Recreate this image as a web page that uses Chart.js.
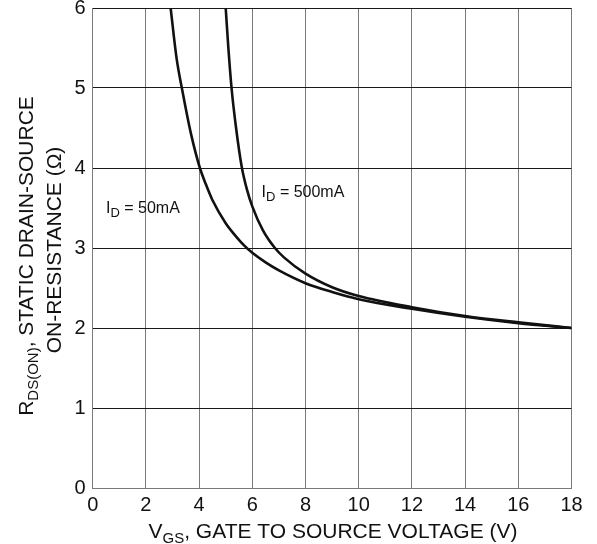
<!DOCTYPE html>
<html>
<head>
<meta charset="utf-8">
<script src="https://cdn.jsdelivr.net/npm/chart.js@4.4.1/dist/chart.umd.min.js"></script>
<style>
  html, body { margin: 0; padding: 0; background: #fff; }
  #wrap { width: 597px; height: 544px; }
</style>
</head>
<body>
<div id="wrap"><canvas id="main" width="597" height="544"></canvas></div>
<script>
// values
const vgs50 = [2.93, 3.15, 3.38, 3.7, 4.03, 4.25, 4.5, 5.0, 5.4, 5.7, 6, 6.5, 7, 8, 9, 10, 12, 14, 16, 18];
const rds50 = [6.0, 5.38, 4.95, 4.42, 4.0, 3.8, 3.6, 3.31, 3.14, 3.03, 2.94, 2.82, 2.72, 2.56, 2.45, 2.36, 2.24, 2.14, 2.06, 2.0];
const vgs500 = [5.0, 5.1, 5.22, 5.39, 5.6, 5.8, 6.0, 6.4, 6.85, 7.2, 8, 9, 10, 12, 14, 16, 18];
const rds500 = [6.0, 5.5, 5.0, 4.5, 4.02, 3.73, 3.52, 3.22, 3.0, 2.88, 2.68, 2.51, 2.4, 2.26, 2.15, 2.07, 2.0];
const xTicks = [0, 2, 4, 6, 8, 10, 12, 14, 16, 18];
const yTicks = [0, 1, 2, 3, 4, 5, 6];
const curveLabels = [
  { main: 'I', sub: 'D', rest: ' = 50mA', at: [0.5, 3.44] },
  { main: 'I', sub: 'D', rest: ' = 500mA', at: [6.35, 3.64] }
];

const FONT = '"Liberation Sans", Arial, sans-serif';

const pairs = (xs, ys) => xs.map((x, i) => ({ x: x, y: ys[i] }));

// draws text made of [text, isSub] pieces, anchored at x (align) and baseline y
const drawRich = (ctx, parts, x, y, size, subSize, subDrop, align) => {
  let w = 0;
  parts.forEach(p => {
    ctx.font = (p[1] ? subSize : size) + 'px ' + FONT;
    w += ctx.measureText(p[0]).width;
  });
  let cx = align === 'center' ? x - w / 2 : x;
  ctx.textAlign = 'left';
  ctx.textBaseline = 'alphabetic';
  parts.forEach(p => {
    ctx.font = (p[1] ? subSize : size) + 'px ' + FONT;
    ctx.fillText(p[0], cx, y + (p[1] ? subDrop : 0));
    cx += ctx.measureText(p[0]).width;
  });
};

const textPlugin = {
  id: 'texts',
  afterDraw(chart) {
    const ctx = chart.ctx;
    const xs = chart.scales.x, ys = chart.scales.y;
    ctx.save();
    ctx.fillStyle = '#111';
    curveLabels.forEach(l => {
      drawRich(ctx, [[l.main, false], [l.sub, true], [l.rest, false]],
        xs.getPixelForValue(l.at[0]), ys.getPixelForValue(l.at[1]), 16, 13, 4, 'left');
    });
    // x title
    drawRich(ctx, [['V', false], ['GS', true], [', GATE TO SOURCE VOLTAGE (V)', false]],
      333, 538, 21, 15, 5, 'center');
    // y title, two lines rotated
    ctx.save();
    ctx.translate(33, 256);
    ctx.rotate(-Math.PI / 2);
    drawRich(ctx, [['R', false], ['DS(ON)', true], [', STATIC DRAIN-SOURCE', false]], 0, 0, 21, 15, 5, 'center');
    ctx.restore();
    ctx.save();
    ctx.translate(61, 250);
    ctx.rotate(-Math.PI / 2);
    drawRich(ctx, [['ON-RESISTANCE (\u03A9)', false]], 0, 0, 21, 15, 5, 'center');
    ctx.restore();
    ctx.restore();
  }
};

new Chart(document.getElementById('main'), {
  type: 'scatter',
  data: {
    datasets: [
      { label: '50mA', data: pairs(vgs50, rds50) },
      { label: '500mA', data: pairs(vgs500, rds500) }
    ]
  },
  options: {
    responsive: false,
    animation: false,
    devicePixelRatio: 1,
    showLine: true,
    layout: { padding: { left: 0, right: 25.5, top: 8, bottom: 0 } },
    elements: {
      point: { radius: 0, hoverRadius: 0 },
      line: { borderColor: '#111', borderWidth: 2.6, cubicInterpolationMode: 'monotone', fill: false }
    },
    plugins: { legend: { display: false }, tooltip: { enabled: false } },
    scales: {
      x: {
        type: 'linear', min: 0, max: 18,
        afterBuildTicks: s => { s.ticks = xTicks.map(v => ({ value: v })); },
        afterFit: s => { s.height = 56; s.paddingLeft = 0; s.paddingRight = 0; },
        grid: { color: '#7a7a7a', lineWidth: 1, drawTicks: false },
        border: { color: '#7a7a7a', width: 1 },
        ticks: { color: '#111', font: { family: FONT, size: 20 }, padding: 5, maxRotation: 0, autoSkip: false }
      },
      y: {
        type: 'linear', min: 0, max: 6,
        afterBuildTicks: s => { s.ticks = yTicks.map(v => ({ value: v })); },
        afterFit: s => { s.width = 92.7; s.paddingTop = 0; s.paddingBottom = 0; },
        grid: { color: '#1a1a1a', lineWidth: 1, drawTicks: false },
        border: { color: '#7a7a7a', width: 1 },
        ticks: { color: '#111', font: { family: FONT, size: 20 }, padding: 7, autoSkip: false }
      }
    }
  },
  plugins: [textPlugin]
});
</script>
</body>
</html>
